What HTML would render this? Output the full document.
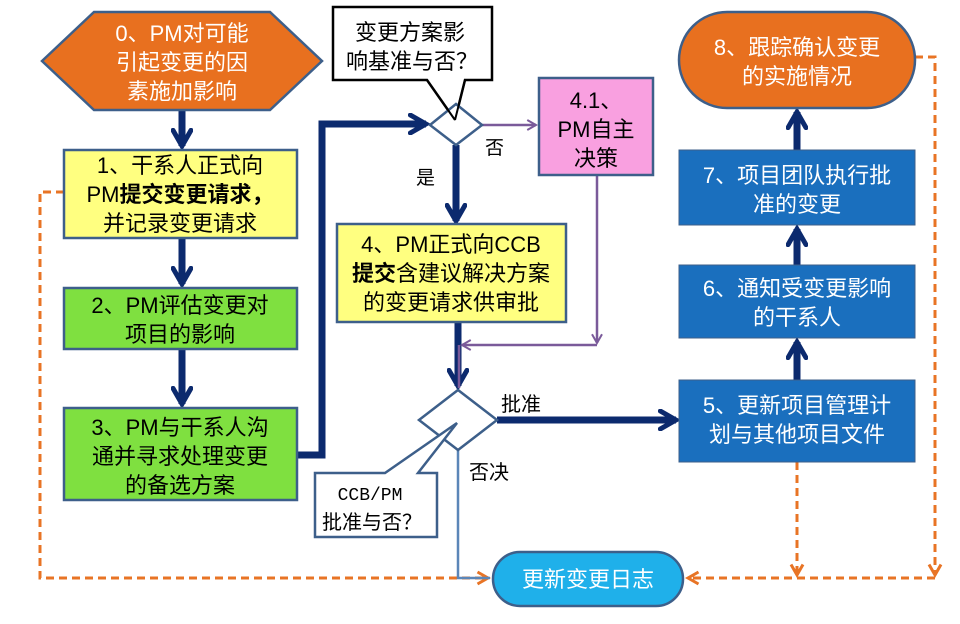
<!DOCTYPE html><html><head><meta charset="utf-8"><style>
body{margin:0;background:#fff}
svg text{font-family:"Liberation Sans","Noto Sans CJK SC",sans-serif;}
</style></head><body>
<svg width="960" height="619" viewBox="0 0 960 619" xmlns="http://www.w3.org/2000/svg">
<defs>
<marker id="ab" viewBox="0 0 10 10" refX="8" refY="5" markerWidth="3.2" markerHeight="3.2" orient="auto"><path d="M1,1 L8,5 L1,9" fill="none" stroke="#0c2a6e" stroke-width="2.2" stroke-linecap="round"/></marker>
<marker id="ao" viewBox="0 0 10 10" refX="8" refY="5" markerWidth="5" markerHeight="5" orient="auto"><path d="M1,1 L8,5 L1,9" fill="none" stroke="#e87425" stroke-width="2"/></marker>
<marker id="ap" viewBox="0 0 10 10" refX="8" refY="5" markerWidth="5" markerHeight="5" orient="auto"><path d="M1,1 L8,5 L1,9" fill="none" stroke="#7a5a9a" stroke-width="1.6"/></marker>
</defs>
<g stroke="#e87425" stroke-width="3" fill="none" stroke-dasharray="8,5">
<path d="M64,192 H40 V578 H488" marker-end="url(#ao)"/>
<path d="M915,57 H935 V575" marker-end="url(#ao)"/>
<path d="M935,578 H688" marker-end="url(#ao)"/>
<path d="M797,462 V575" marker-end="url(#ao)"/>
</g>
<g stroke="#0c2a6e" stroke-width="7" fill="none">
<path d="M182,110 V146" marker-end="url(#ab)"/>
<path d="M182,238 V284" marker-end="url(#ab)"/>
<path d="M182,349 V404" marker-end="url(#ab)"/>
<path d="M297,455 H322 V124 H426" marker-end="url(#ab)"/>
<path d="M456,145 V221" marker-end="url(#ab)"/>
<path d="M458,322 V386" marker-end="url(#ab)"/>
<path d="M497,420 H676" marker-end="url(#ab)"/>
<path d="M797,380 V342" marker-end="url(#ab)"/>
<path d="M797,265 V229" marker-end="url(#ab)"/>
<path d="M797,150 V112" marker-end="url(#ab)"/>
</g>
<g stroke="#7a5a9a" stroke-width="2.5" fill="none">
<path d="M482,125 H536" marker-end="url(#ap)"/>
<path d="M597,175 V343" marker-end="url(#ap)"/>
<path d="M597,345 H462" marker-end="url(#ap)"/>
<path d="M459,345 V388"/>
</g>
<path d="M458,450 V578 H490" stroke="#5b86b8" stroke-width="2.5" fill="none"/>
<polygon points="42,61 94,12 270,12 322,61 270,110 94,110" fill="#e8701f" stroke="#3d5f8a" stroke-width="2.5"/>
<text fill="#fff" font-size="22" text-anchor="middle"><tspan x="182" y="41">0、PM对可能</tspan><tspan x="182" y="70">引起变更的因</tspan><tspan x="182" y="99">素施加影响</tspan></text>
<rect x="64" y="150" width="233" height="88" fill="#ffff80" stroke="#3d5f8a" stroke-width="2.5"/>
<text font-size="22" text-anchor="middle" fill="#000"><tspan x="180" y="173">1、干系人正式向</tspan><tspan x="180" y="202">PM<tspan font-weight="bold">提交变更请求，</tspan></tspan><tspan x="180" y="231">并记录变更请求</tspan></text>
<rect x="64" y="288" width="233" height="61" fill="#7fe040" stroke="#3d5f8a" stroke-width="2.5"/>
<text font-size="22" text-anchor="middle"><tspan x="180" y="313">2、PM评估变更对</tspan><tspan x="180" y="342">项目的影响</tspan></text>
<rect x="64" y="408" width="233" height="92" fill="#7fe040" stroke="#3d5f8a" stroke-width="2.5"/>
<text font-size="22" text-anchor="middle"><tspan x="180" y="435">3、PM与干系人沟</tspan><tspan x="180" y="464">通并寻求处理变更</tspan><tspan x="180" y="493">的备选方案</tspan></text>
<path d="M333,7 H492 V80 H465 L455,120 L427,80 H333 Z" fill="#fff" stroke="#000" stroke-width="2.5"/>
<text font-size="22" text-anchor="middle"><tspan x="410" y="40">变更方案影</tspan><tspan x="412" y="69">响基准与否？</tspan></text>
<polygon points="430,125 456,104 482,125 456,145" fill="#fff" stroke="#3d5f8a" stroke-width="2.5"/>
<path d="M455,120 L427,80 M455,120 L465,80" stroke="#000" stroke-width="2"/>
<text x="485" y="154" font-size="19">否</text>
<text x="416" y="184" font-size="19">是</text>
<rect x="539" y="78" width="114" height="97" fill="#f9a0e0" stroke="#3d5f8a" stroke-width="2.5"/>
<text font-size="22" text-anchor="middle"><tspan x="596" y="108">4.1、</tspan><tspan x="596" y="137">PM自主</tspan><tspan x="596" y="166">决策</tspan></text>
<rect x="337" y="224" width="229" height="98" fill="#ffff80" stroke="#3d5f8a" stroke-width="2.5"/>
<text font-size="22" text-anchor="middle"><tspan x="451" y="252">4、PM正式向CCB</tspan><tspan x="451" y="281"><tspan font-weight="bold">提交</tspan>含建议解决方案</tspan><tspan x="451" y="310">的变更请求供审批</tspan></text>
<polygon points="419,420 458,390 497,420 458,450" fill="#fff" stroke="#3d5f8a" stroke-width="2.5"/>
<text x="501" y="411" font-size="20">批准</text>
<text x="469" y="479" font-size="20">否决</text>
<path d="M315,473 H385 L457,423 L418,473 H437 V537 H315 Z" fill="#fff" stroke="#3d5f8a" stroke-width="2.5"/>
<text font-size="20" text-anchor="middle"><tspan x="370" y="500" font-family="Liberation Mono,monospace" font-size="18">CCB/PM</tspan><tspan x="372" y="529">批准与否？</tspan></text>
<rect x="679" y="12" width="236" height="96" rx="48" fill="#e8701f" stroke="#3d5f8a" stroke-width="2.5"/>
<text fill="#fff" font-size="22" text-anchor="middle"><tspan x="797" y="55">8、跟踪确认变更</tspan><tspan x="797" y="84">的实施情况</tspan></text>
<rect x="679" y="150" width="236" height="75" fill="#1a6fbe" stroke="#3d5f8a" stroke-width="1"/>
<text fill="#fff" font-size="22" text-anchor="middle"><tspan x="797" y="183">7、项目团队执行批</tspan><tspan x="797" y="212">准的变更</tspan></text>
<rect x="679" y="265" width="236" height="73" fill="#1a6fbe" stroke="#3d5f8a" stroke-width="1"/>
<text fill="#fff" font-size="22" text-anchor="middle"><tspan x="797" y="296">6、通知受变更影响</tspan><tspan x="797" y="325">的干系人</tspan></text>
<rect x="679" y="380" width="236" height="82" fill="#1a6fbe" stroke="#3d5f8a" stroke-width="1"/>
<text fill="#fff" font-size="22" text-anchor="middle"><tspan x="797" y="413">5、更新项目管理计</tspan><tspan x="797" y="442">划与其他项目文件</tspan></text>
<rect x="493" y="552" width="190" height="54" rx="27" fill="#1fb0ea" stroke="#3d5f8a" stroke-width="2.5"/>
<text x="588" y="587" fill="#fff" font-size="22" text-anchor="middle">更新变更日志</text>
</svg>
</body></html>
